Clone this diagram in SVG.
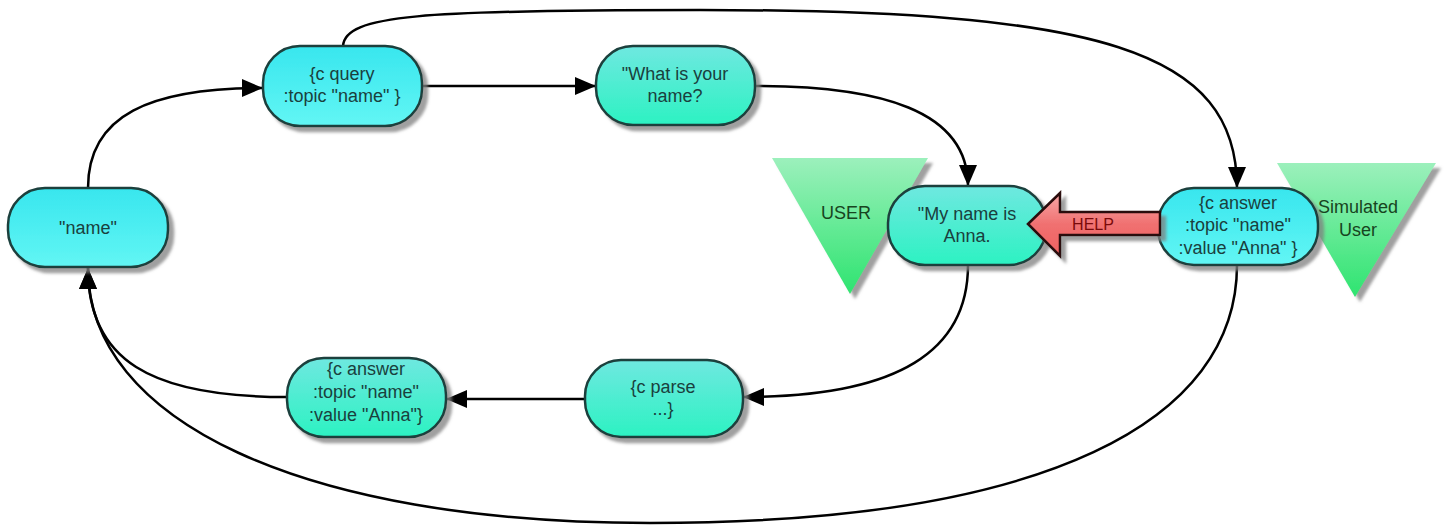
<svg xmlns="http://www.w3.org/2000/svg" width="1446" height="531" viewBox="0 0 1446 531">
<defs>
<linearGradient id="gc" x1="0" y1="0" x2="0" y2="1"><stop offset="0" stop-color="#38e6ee"/><stop offset="1" stop-color="#62f6f4"/></linearGradient>
<linearGradient id="gt" x1="0" y1="0" x2="0" y2="1"><stop offset="0" stop-color="#6fe8e0"/><stop offset="1" stop-color="#2cf2c2"/></linearGradient>
<linearGradient id="gg" x1="0" y1="0" x2="0" y2="1"><stop offset="0" stop-color="#9cf0bc"/><stop offset="1" stop-color="#2ee470"/></linearGradient>
<linearGradient id="gr" x1="0" y1="0" x2="0" y2="1"><stop offset="0" stop-color="#f8a8a8"/><stop offset="0.5" stop-color="#f07070"/><stop offset="1" stop-color="#f06060"/></linearGradient>
<filter id="sh" x="-10%" y="-10%" width="130%" height="140%"><feDropShadow dx="5" dy="5" stdDeviation="1.5" flood-color="#808080" flood-opacity="0.75"/></filter>
<marker id="ah" markerUnits="userSpaceOnUse" markerWidth="23" markerHeight="19" refX="21" refY="9" orient="auto"><path d="M0,0 L21,9 L0,18 z" fill="#000"/></marker>
<style>
.node{stroke:#1b3f3c;stroke-width:2.5;filter:url(#sh)}
.c{fill:url(#gc)}
.t{fill:url(#gt)}
.tri{fill:url(#gg);filter:url(#sh)}
.lbl{font-family:"Liberation Sans",Arial,sans-serif;font-size:18px;fill:#1a403d;text-anchor:middle}
.tl{font-family:"Liberation Sans",Arial,sans-serif;font-size:18px;fill:#174420;text-anchor:middle}
.edge{fill:none;stroke:#000;stroke-width:2.5;marker-end:url(#ah)}
</style>
</defs>
<rect width="1446" height="531" fill="#fff"/>

<g id="user">
<polygon class="tri" points="772,158 928,158 850,294"/>
<text class="tl" x="846" y="219">USER</text>
</g>
<g id="simulated-user">
<polygon class="tri" points="1277,163 1436,163 1355,297"/>
<text class="tl" x="1358" y="213">Simulated</text>
<text class="tl" x="1358" y="236">User</text>
</g>

<g id="connectors">
<path class="edge" d="M88,188 C88,115 150,88 263,88"/>
<path class="edge" d="M422,86 L596,86"/>
<path class="edge" d="M755,86 C880,86 968,110 968,186"/>
<path class="edge" d="M343,46 C345,15 420,10 700,10 C1100,10 1237,50 1237,188"/>
<path class="edge" d="M968,265 C968,350 900,397 743,397"/>
<path class="edge" d="M585,399 L446,399"/>
<path class="edge" d="M287,397 C150,397 88,360 88,268"/>
<path class="edge" d="M1237,265 C1237,420 1050,523 650,523 C300,523 88,420 88,268"/>
</g>

<g id="n-name">
<rect class="node c" x="8" y="188" width="160" height="79" rx="37"/>
<text class="lbl" x="88" y="234">"name"</text>
</g>
<g id="n-query">
<rect class="node c" x="263" y="46" width="159" height="80" rx="37"/>
<text class="lbl" x="342" y="80">{c query</text>
<text class="lbl" x="342" y="102">:topic "name" }</text>
</g>
<g id="n-what">
<rect class="node t" x="596" y="46" width="159" height="79" rx="37"/>
<text class="lbl" x="675" y="80">"What is your</text>
<text class="lbl" x="675" y="102">name?</text>
</g>
<g id="n-myname">
<rect class="node t" x="888" y="186" width="158" height="79" rx="37"/>
<text class="lbl" x="967" y="220">"My name is</text>
<text class="lbl" x="967" y="242">Anna.</text>
</g>
<g id="n-answer-sim">
<rect class="node c" x="1158" y="188" width="160" height="77" rx="36"/>
<text class="lbl" x="1238" y="209">{c answer</text>
<text class="lbl" x="1238" y="231">:topic "name"</text>
<text class="lbl" x="1238" y="254">:value "Anna" }</text>
</g>
<g id="n-parse">
<rect class="node t" x="585" y="360" width="158" height="77" rx="36"/>
<text class="lbl" x="663" y="393">{c parse</text>
<text class="lbl" x="663" y="415">...}</text>
</g>
<g id="n-answer">
<rect class="node t" x="287" y="358" width="159" height="79" rx="37"/>
<text class="lbl" x="366" y="375">{c answer</text>
<text class="lbl" x="366" y="398">:topic "name"</text>
<text class="lbl" x="366" y="421">:value "Anna"}</text>
</g>

<g id="help-arrow">
<polygon points="1028,224 1060,193 1060,212 1160,212 1160,235 1060,235 1060,256" fill="url(#gr)" stroke="#2a0a0a" stroke-width="2.5" stroke-linejoin="miter" filter="url(#sh)"/>
<text x="1093" y="230" font-family="Liberation Sans,Arial,sans-serif" font-size="16" fill="#7a0a0a" text-anchor="middle">HELP</text>
</g>
</svg>
